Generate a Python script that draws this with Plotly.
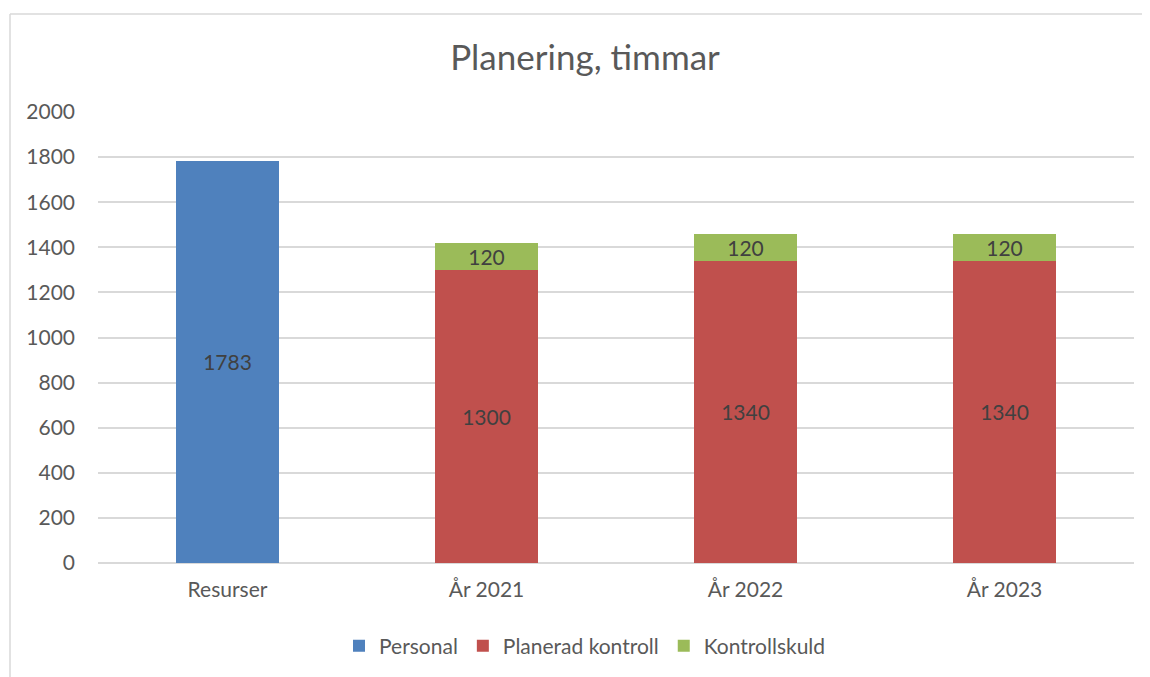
import plotly.graph_objects as go

categories = ["Resurser", "År 2021", "År 2022", "År 2023"]
personal = [1783, None, None, None]
planerad = [None, 1300, 1340, 1340]
skuld = [None, 120, 120, 120]

FONT = "Lato, 'Open Sans', sans-serif"
TXT = "#595959"
FS = 21

# page body has an 8px margin; figure starts at (8, 8)
W, H = 1142, 669
OX, OY = 8, 8
L, T, PW, PH = 98 - OX, 112 - OY, 1036, 451

def lbl(vals):
    return [("" if v is None else str(v)) for v in vals]

fig = go.Figure()
for name, vals, col in [("Personal", personal, "#4F81BD"),
                        ("Planerad kontroll", planerad, "#C0504D"),
                        ("Kontrollskuld", skuld, "#9BBB59")]:
    fig.add_trace(go.Bar(name=name, x=categories, y=vals, marker_color=col,
                         text=lbl(vals), textposition="inside", insidetextanchor="middle",
                         textfont=dict(color="#404040", size=FS, family=FONT)))

fig.update_traces(marker_line_width=0, constraintext="none", cliponaxis=False)

fig.update_layout(
    barmode="stack",
    bargap=0.6,
    width=W, height=H,
    margin=dict(l=L, r=W - L - PW, t=T, b=H - T - PH),
    paper_bgcolor="white", plot_bgcolor="white",
    font=dict(family=FONT, color=TXT, size=FS),
    uniformtext=dict(minsize=8, mode="show"),
    title=dict(text="Planering, timmar", x=(585 - OX) / W, xref="container", xanchor="center",
               y=1 - (58 - OY) / H, yref="container", yanchor="middle",
               font=dict(size=35, color=TXT, family=FONT)),
    xaxis=dict(showgrid=False, showline=False, ticks="", tickfont=dict(size=FS, color=TXT),
               ticklabelstandoff=12),
    yaxis=dict(range=[0, 2000], dtick=200, showgrid=True, gridcolor="#D9D9D9", gridwidth=1.5,
               zeroline=True, zerolinecolor="#D9D9D9", zerolinewidth=1.5, showline=False,
               tickfont=dict(size=FS, color=TXT), ticklabelstandoff=22),
    legend=dict(orientation="h", x=(585 - OX) / W, xref="container", xanchor="center",
                y=1 - (646 - OY) / H, yref="container", yanchor="middle",
                font=dict(size=FS, color=TXT), itemwidth=30, traceorder="normal",
                itemclick=False),
    showlegend=True,
)

# outer chart frame (left and top edges visible)
fx0 = (10 - 98) / PW
fy1 = (563 - 14) / PH
fig.add_shape(type="line", xref="paper", yref="paper",
              x0=fx0, x1=fx0, y0=-(720 - 563) / PH, y1=fy1,
              line=dict(color="#D9D9D9", width=1.5), layer="below")
fig.add_shape(type="line", xref="paper", yref="paper",
              x0=fx0, x1=(1200 - 98) / PW, y0=fy1, y1=fy1,
              line=dict(color="#D9D9D9", width=1.5), layer="below")

fig.write_html("out.html")
